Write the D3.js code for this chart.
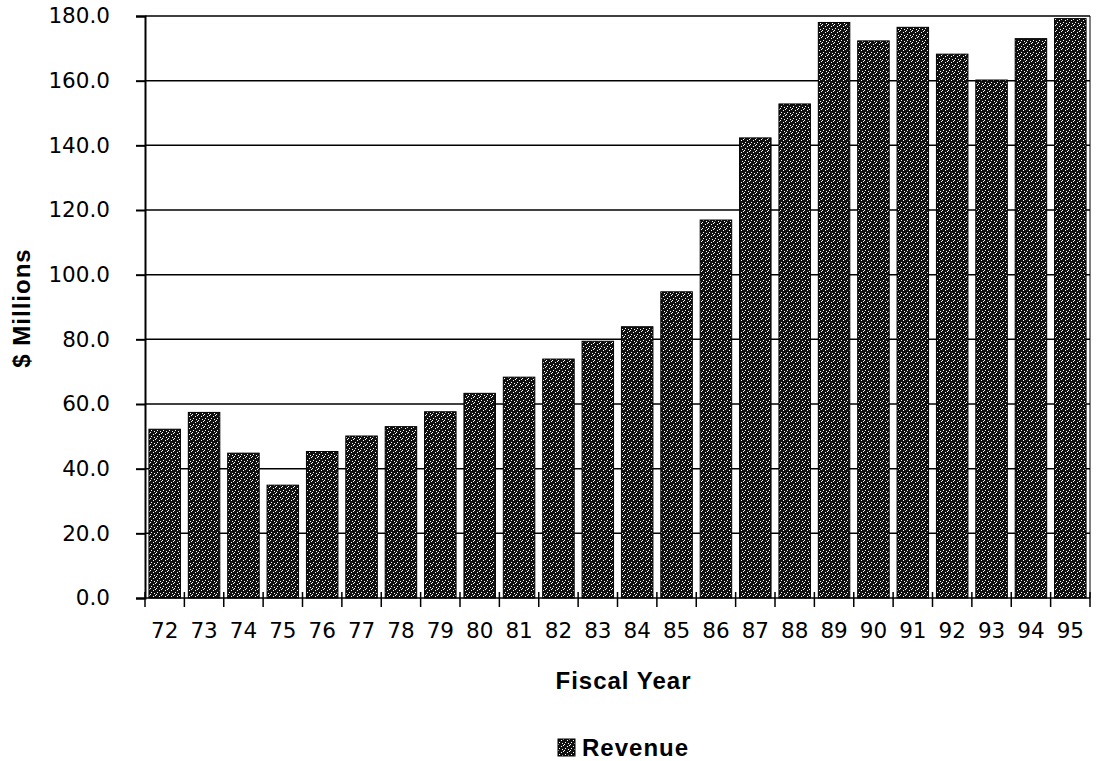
<!DOCTYPE html>
<html>
<head>
<meta charset="utf-8">
<script src="https://cdn.jsdelivr.net/npm/d3@7"></script>
<style>
  html, body { margin: 0; padding: 0; background: #fff; }
  svg { display: block; }
</style>
</head>
<body>
<svg id="chart" width="1099" height="761"></svg>
<script>
const years = ["72","73","74","75","76","77","78","79","80","81","82","83","84","85","86","87","88","89","90","91","92","93","94","95"];
const revenue = [52.2,57.4,44.8,34.9,45.3,50.1,53.0,57.6,63.3,68.3,73.9,79.4,83.9,94.7,116.9,142.3,152.8,178.0,172.3,176.5,168.2,160.2,173.0,179.2];
const yTicks = [0,20,40,60,80,100,120,140,160,180];
const seriesName = "Revenue";
const xTitle = "Fiscal Year";
const yTitle = "$ Millions";

(function(){
const svg = d3.select("#chart");
const pLeft = 145, pRight = 1090, pTop = 16, pBottom = 598;

const defs = svg.append("defs");
const pat = defs.append("pattern").attr("id","stip").attr("patternUnits","userSpaceOnUse")
  .attr("width",6).attr("height",6);
pat.append("rect").attr("width",6).attr("height",6).attr("fill","#111");
[[0,0],[3,2],[1,4],[4,5],[5,1]].forEach(p=>{
  pat.append("rect").attr("x",p[0]).attr("y",p[1]).attr("width",1).attr("height",1).attr("fill","#fff");
});

const x = d3.scaleBand().domain(years).range([pLeft,pRight]).paddingInner(0.2).paddingOuter(0.1);
const y = d3.scaleLinear().domain([0,180]).range([pBottom,pTop]);

// gridlines
svg.append("g").selectAll("line").data(yTicks.filter(d=>d>0)).join("line")
  .attr("x1",pLeft).attr("x2",pRight).attr("y1",d=>y(d)).attr("y2",d=>y(d))
  .attr("stroke","#000").attr("stroke-width",1.5);
// right border
svg.append("line").attr("x1",pRight).attr("x2",pRight).attr("y1",pTop).attr("y2",pBottom)
  .attr("stroke","#000").attr("stroke-width",1);

// bars
svg.append("g").selectAll("rect").data(revenue).join("rect")
  .attr("x",(d,i)=>x(years[i])).attr("width",x.bandwidth())
  .attr("y",d=>y(d)).attr("height",d=>y(0)-y(d))
  .attr("fill","url(#stip)").attr("stroke","#000").attr("stroke-width",1);

// y axis
const yAxis = svg.append("g").attr("transform",`translate(${pLeft},0)`)
  .call(d3.axisLeft(y).tickValues(yTicks).tickFormat(d3.format(".1f")).tickSize(9).tickPadding(26));
yAxis.select(".domain").attr("stroke","#000").attr("stroke-width",2);
yAxis.selectAll(".tick line").attr("stroke","#000").attr("stroke-width",2);
yAxis.selectAll("text").attr("font-family","DejaVu Sans, sans-serif").attr("font-size",21.5).attr("fill","#000");

// x axis
const xAxis = svg.append("g").attr("transform",`translate(0,${pBottom})`)
  .call(d3.axisBottom(x).tickSize(0).tickPadding(25));
xAxis.select(".domain").attr("stroke","#000").attr("stroke-width",1.5).attr("d",`M${pLeft},0H${pRight}`);
xAxis.selectAll("text").attr("font-family","DejaVu Sans, sans-serif").attr("font-size",21.5).attr("fill","#000");
const bounds = years.map(d=>x(d)-x.step()*x.paddingInner()/2).concat([pRight]);
svg.append("g").selectAll("line").data(bounds).join("line")
  .attr("x1",d=>d).attr("x2",d=>d).attr("y1",pBottom-6).attr("y2",pBottom+9)
  .attr("stroke","#000").attr("stroke-width",1.5);

// titles
svg.append("text").attr("x",(pLeft+pRight)/2+6).attr("y",689).attr("text-anchor","middle")
  .attr("font-family","Liberation Sans, Arial, sans-serif").attr("font-weight","bold").attr("font-size",24)
  .attr("letter-spacing",1).text(xTitle);
svg.append("text").attr("transform","translate(30,308) rotate(-90)").attr("text-anchor","middle")
  .attr("font-family","Liberation Sans, Arial, sans-serif").attr("font-weight","bold").attr("font-size",24)
  .attr("letter-spacing",1).text(yTitle);

// legend
const lg = svg.append("g");
lg.append("rect").attr("x",558).attr("y",739).attr("width",17).attr("height",17)
  .attr("fill","url(#stip)").attr("stroke","#000").attr("stroke-width",1);
lg.append("text").attr("x",582).attr("y",756)
  .attr("font-family","Liberation Sans, Arial, sans-serif").attr("font-weight","bold").attr("font-size",24)
  .attr("letter-spacing",1).text(seriesName);
})();
</script>
</body>
</html>
